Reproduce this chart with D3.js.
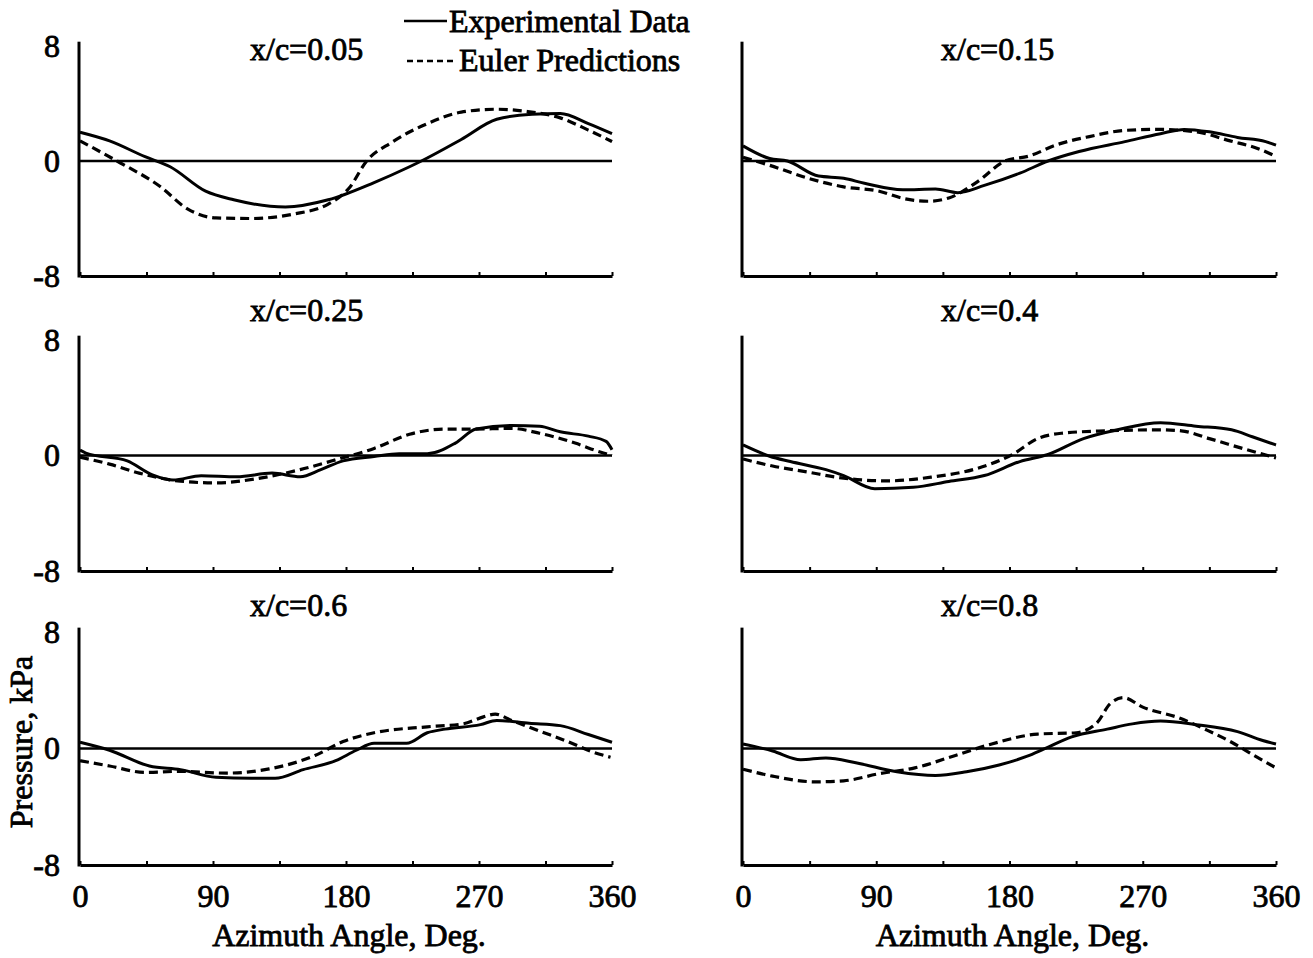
<!DOCTYPE html>
<html>
<head>
<meta charset="utf-8">
<script src="https://cdn.jsdelivr.net/npm/d3@7/dist/d3.min.js"></script>
<style>
  body { margin: 0; background: #fff; }
  svg text { font-family: "Liberation Serif", "Times New Roman", serif; fill: #000; stroke: #000; stroke-width: 0.8px; }
</style>
</head>
<body>
<svg id="chart" width="1313" height="958"></svg>
<script>
// panel titles, row by row (left, right)
var titles = ["x/c=0.05", "x/c=0.15", "x/c=0.25", "x/c=0.4", "x/c=0.6", "x/c=0.8"];

// [azimuth deg, pressure kPa]
var exp005 = [[0,2.0],[20,1.4],[44,0.3],[61,-0.4],[85,-2.1],[104,-2.7],[139,-3.2],[168,-2.7],[199,-1.5],[223,-0.4],[231,0],[258,1.5],[282,2.9],[306,3.25],[325,3.3],[344,2.6],[360,1.9]];
var eul005 = [[0,1.4],[25,0],[54,-1.76],[73,-3.35],[92,-3.96],[116,-4.0],[144,-3.7],[168,-3.0],[182,-1.9],[194,0],[211,1.3],[235,2.6],[258,3.4],[282,3.6],[302,3.45],[325,3.0],[344,2.15],[360,1.35]];

var exp015 = [[0,1.05],[18,0.17],[30,0],[51,-1.05],[68,-1.2],[82,-1.55],[108,-2.0],[130,-1.95],[145,-2.2],[163,-1.7],[187,-0.85],[206,0],[227,0.66],[258,1.35],[282,1.9],[298,2.2],[315,2.03],[334,1.64],[353,1.35],[360,1.1]];
var eul015 = [[0,0.25],[18,-0.3],[44,-1.2],[68,-1.8],[92,-2.1],[108,-2.6],[125,-2.8],[139,-2.57],[158,-1.47],[177,0],[194,0.37],[211,1.1],[234,1.7],[258,2.13],[282,2.2],[306,2.03],[329,1.4],[348,0.86],[360,0.32]];

var exp025 = [[0,0.37],[4,0.17],[32,-0.37],[49,-1.34],[63,-1.7],[82,-1.4],[106,-1.47],[130,-1.22],[149,-1.47],[163,-0.98],[178,-0.37],[199,-0.07],[216,0.12],[235,0.12],[254,0.86],[268,1.83],[292,2.08],[311,2.03],[325,1.64],[344,1.34],[356,0.98],[360,0.4]];
var eul025 = [[0,-0.12],[20,-0.6],[40,-1.22],[68,-1.78],[92,-1.9],[120,-1.6],[149,-0.98],[175,-0.24],[199,0.49],[223,1.47],[247,1.83],[266,1.83],[292,1.88],[311,1.54],[335,0.86],[352,0.24],[360,0]];

var exp040 = [[0,0.73],[18,-0.05],[32,-0.42],[56,-0.98],[68,-1.39],[89,-2.3],[115,-2.2],[139,-1.8],[163,-1.39],[187,-0.42],[206,0.07],[230,1.17],[253,1.78],[282,2.27],[306,2.03],[330,1.78],[344,1.3],[360,0.73]];
var eul040 = [[0,-0.24],[20,-0.73],[44,-1.15],[63,-1.5],[80,-1.69],[97,-1.76],[127,-1.5],[158,-0.9],[182,0.07],[199,1.17],[215,1.54],[246,1.71],[282,1.78],[296,1.71],[315,1.17],[339,0.44],[360,-0.17]];

var exp060 = [[0,0.43],[20,-0.12],[47,-1.2],[68,-1.45],[92,-1.98],[116,-2.05],[132,-2.05],[151,-1.45],[173,-0.84],[187,-0.12],[199,0.36],[221,0.36],[235,1.08],[247,1.33],[271,1.64],[282,1.93],[304,1.73],[325,1.57],[344,0.96],[360,0.43]];
var eul060 = [[0,-0.84],[20,-1.2],[44,-1.64],[68,-1.57],[99,-1.69],[128,-1.4],[159,-0.48],[178,0.48],[199,1.08],[235,1.49],[259,1.69],[273,2.17],[281,2.36],[292,1.93],[311,1.2],[330,0.48],[347,-0.24],[359,-0.6]];

var exp080 = [[0,0.31],[20,-0.17],[39,-0.77],[56,-0.65],[77,-1.0],[104,-1.6],[130,-1.86],[151,-1.6],[173,-1.13],[192,-0.53],[203,-0.05],[222,0.8],[246,1.33],[263,1.69],[282,1.88],[306,1.64],[334,1.16],[351,0.55],[360,0.31]];
var eul080 = [[0,-1.42],[20,-1.9],[49,-2.29],[68,-2.22],[92,-1.73],[116,-1.33],[144,-0.46],[168,0.31],[199,0.99],[225,1.08],[239,1.76],[248,3.08],[257,3.49],[270,2.84],[294,2.12],[313,1.28],[330,0.43],[346,-0.53],[360,-1.33]];

var expSeries = [exp005, exp015, exp025, exp040, exp060, exp080];
var eulSeries = [eul005, eul015, eul025, eul040, eul060, eul080];

var xTicks = [0, 45, 90, 135, 180, 225, 270, 315, 360];
var yTicks = [-8, 0, 8];

// layout
var colX = [[80, 612], [743, 1276]];
var rowY = [[276, 46], [571, 340], [865, 632]];
var titleX = [250, 941];
var titleY = [60, 321, 616];
var dash = "9,5";

var svg = d3.select("#chart");

titles.forEach(function (title, i) {
    var row = Math.floor(i / 2), col = i % 2;
    var x = d3.scaleLinear().domain([0, 360]).range(colX[col]);
    var y = d3.scaleLinear().domain([-8, 8]).range(rowY[row]);
    var g = svg.append("g");

    // bottom axis with small upward ticks
    var xAxis = d3.axisBottom(x).tickValues(xTicks).tickSizeInner(-4).tickSizeOuter(0).tickPadding(19)
        .tickFormat(function (d) { return (row === 2 && d % 90 === 0) ? d : ""; });
    var ax = g.append("g").attr("transform", "translate(0," + y(-8) + ")").call(xAxis);
    ax.select(".domain").attr("stroke-width", 3);
    ax.selectAll(".tick line").attr("stroke-width", 2);
    ax.selectAll("text").attr("font-size", 32).attr("font-family", null);

    // vertical axis
    g.append("line")
        .attr("x1", x(0) - 1).attr("x2", x(0) - 1)
        .attr("y1", y(8.3)).attr("y2", y(-8) + 1.5)
        .attr("stroke", "#000").attr("stroke-width", 3);

    if (col === 0) {
        var yAxis = d3.axisLeft(y).tickValues(yTicks).tickSize(0).tickPadding(20)
            .tickFormat(function (d) { return String(d); });
        var ay = g.append("g").attr("transform", "translate(" + x(0) + ",0)").call(yAxis);
        ay.select(".domain").remove();
        ay.selectAll("text").attr("font-size", 32).attr("font-family", null);
    }

    // zero line
    g.append("line")
        .attr("x1", x(0)).attr("x2", x(360))
        .attr("y1", y(0)).attr("y2", y(0))
        .attr("stroke", "#000").attr("stroke-width", 2.5);

    var line = d3.line()
        .x(function (d) { return x(d[0]); })
        .y(function (d) { return y(d[1]); })
        .curve(d3.curveMonotoneX);

    g.append("path").datum(eulSeries[i]).attr("d", line)
        .attr("fill", "none").attr("stroke", "#000").attr("stroke-width", 3.2)
        .attr("stroke-dasharray", dash);
    g.append("path").datum(expSeries[i]).attr("d", line)
        .attr("fill", "none").attr("stroke", "#000").attr("stroke-width", 3);

    g.append("text").attr("x", titleX[col]).attr("y", titleY[row])
        .attr("font-size", 32).text(title);

    if (row === 2) {
        g.append("text").attr("x", (colX[col][0] + colX[col][1]) / 2 + 3).attr("y", 946)
            .attr("text-anchor", "middle").attr("font-size", 32).text("Azimuth Angle, Deg.");
    }
});

// y title
svg.append("text").attr("transform", "translate(32,742) rotate(-90)")
    .attr("text-anchor", "middle").attr("font-size", 32).text("Pressure, kPa");

// legend
var legend = svg.append("g");
legend.append("line").attr("x1", 404).attr("x2", 447).attr("y1", 21).attr("y2", 21)
    .attr("stroke", "#000").attr("stroke-width", 2.5);
legend.append("text").attr("x", 449).attr("y", 32).attr("font-size", 32).text("Experimental Data");
legend.append("line").attr("x1", 407).attr("x2", 456).attr("y1", 61).attr("y2", 61)
    .attr("stroke", "#000").attr("stroke-width", 2.5).attr("stroke-dasharray", "6,4");
legend.append("text").attr("x", 459).attr("y", 71).attr("font-size", 32).text("Euler Predictions");
</script>
</body>
</html>
